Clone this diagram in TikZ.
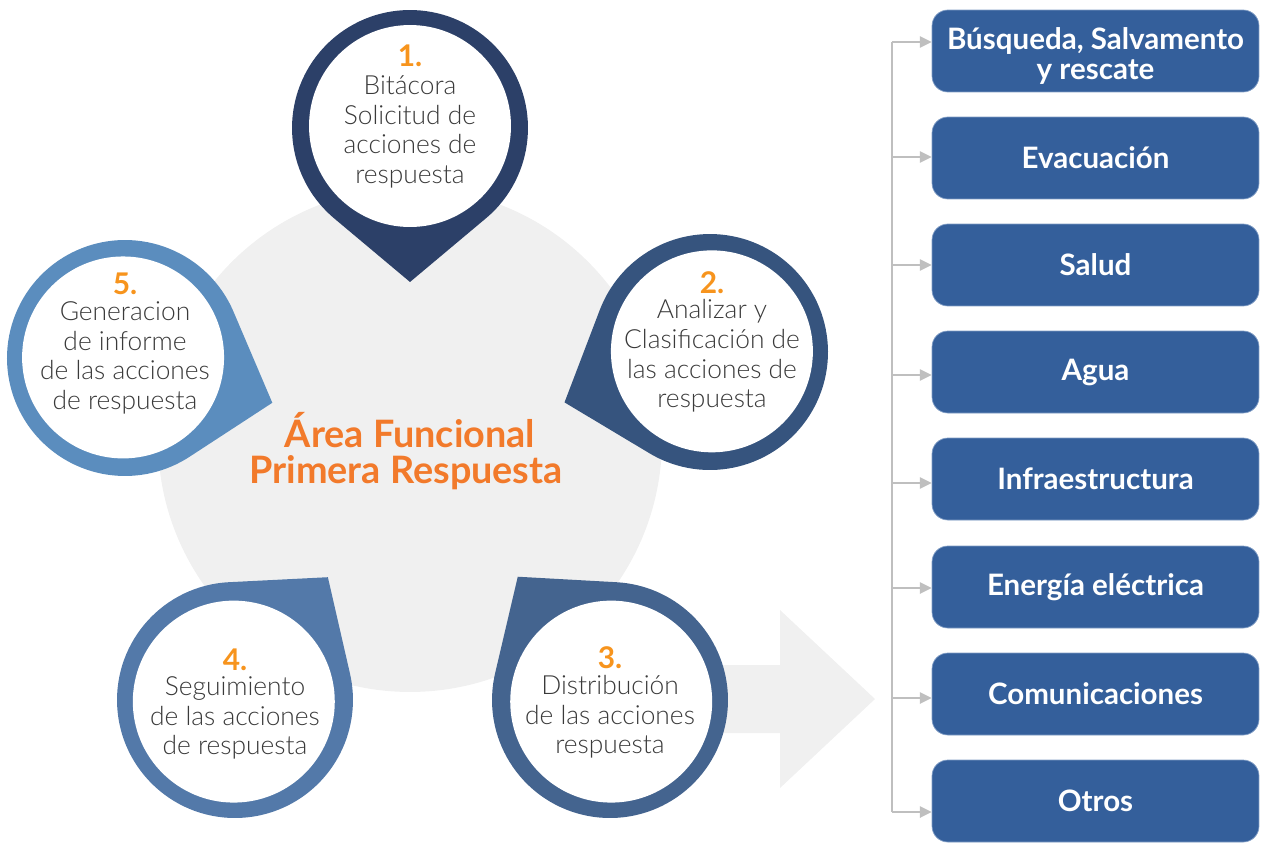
\documentclass[tikz,border=0pt]{standalone}
\usepackage{fontspec}
\setmainfont{Lato}
\IfFontExistsTF{Lato Light}{\newfontfamily\pinfont{Lato Light}}{\newfontfamily\pinfont{Lato}}
\usetikzlibrary{calc,arrows.meta}
\definecolor{bggray}{HTML}{F0F0F0}
\definecolor{pinA}{HTML}{2C4068}
\definecolor{pinB}{HTML}{36547E}
\definecolor{pinC}{HTML}{44648F}
\definecolor{pinD}{HTML}{5379A9}
\definecolor{pinE}{HTML}{5B8DBE}
\definecolor{numor}{HTML}{F7941D}
\definecolor{titleor}{HTML}{F27A2B}
\definecolor{boxblue}{HTML}{345F9B}
\definecolor{boxedge}{HTML}{7F9CC4}
\definecolor{linegray}{HTML}{BFBFBF}
\definecolor{txtgray}{HTML}{3A3A3A}
\newcommand\drawpinshape[3]{%
  \pgfmathsetmacro\pinangA{#2+40}%
  \pgfmathsetmacro\pinangB{#2+320}%
  \pgfmathsetmacro\pinangC{#2+180}%
  \fill[#3] ($(#1)+(#2:3.08cm)$) -- ($(#1)+(\pinangA:2.36cm)$) arc[start angle=\pinangA, end angle=\pinangB, radius=2.36cm] -- cycle;
  \fill[white] ($(#1)+(\pinangC:0.04cm)$) circle[radius=2.02cm];
}
\tikzset{
  pintext/.style={align=center, text=txtgray, inner sep=0pt, font=\pinfont\fontsize{15}{16.8}\selectfont},
  pinnum/.style={inner sep=0pt, text=numor, font=\bfseries\fontsize{17}{18}\selectfont},
  titletext/.style={anchor=base, text=titleor, inner sep=0pt, font=\bfseries\fontsize{21.5}{22}\selectfont},
  bx/.style={rounded corners=9pt, fill=boxblue, draw=boxedge, line width=0.4pt, minimum width=6.54cm, minimum height=1.64cm, text=white, font=\bfseries\fontsize{16.8}{17}\selectfont, align=center, inner sep=0pt},
  conn/.style={draw=linegray, line width=1.4pt},
  connarrow/.style={conn, -{Triangle[length=6.8pt,width=6.4pt]}}
}
\begin{document}
\begin{tikzpicture}[x=0.02cm,y=0.02cm]
\useasboundingbox (0,0) rectangle (1266,-842);
% background circle and arrow
\fill[bggray] (410,-440) circle[radius=5.04cm];
\fill[bggray] (650,-665) -- (780,-665) -- (780,-610) -- (875,-699) -- (780,-788) -- (780,-733) -- (650,-733) -- cycle;
% pin centres
\coordinate (c1) at (410,-128);
\coordinate (c2) at (710,-352);
\coordinate (c3) at (610,-700);
\coordinate (c4) at (235,-700);
\coordinate (c5) at (125,-358);
\drawpinshape{c1}{-90}{pinA}
\drawpinshape{c2}{199.1}{pinB}
\drawpinshape{c3}{126.8}{pinC}
\drawpinshape{c4}{52.9}{pinD}
\drawpinshape{c5}{-16.9}{pinE}
% pin texts
\node[pinnum] (n1) at (410,-56) {1.};
\node[pintext] (t1) at (410,-132) {Bitácora\\Solicitud de\\acciones de\\respuesta};
\node[pinnum] (n2) at (712,-283) {2.};
\node[pintext] (t2) at (712,-356) {Analizar y\\Clasificación de\\las acciones de\\respuesta};
\node[pinnum] (n3) at (610,-658) {3.};
\node[pintext] (t3) at (610,-717) {Distribución\\de las acciones\\respuesta};
\node[pinnum] (n4) at (235,-660) {4.};
\node[pintext] (t4) at (235,-718) {Seguimiento\\de las acciones\\de respuesta};
\node[pinnum] (n5) at (125,-284) {5.};
\node[pintext] (t5) at (125,-358) {Generacion\\de informe\\de las acciones\\de respuesta};
% title
\node[titletext] (title1) at (410,-447) {Área Funcional};
\node[titletext] (title2) at (406,-483) {Primera Respuesta};
% boxes
\node[bx] (b1) at (1095.5,-51) {\rule{0pt}{18pt}Búsqueda, Salvamento\\y rescate};
\node[bx] (b2) at (1095.5,-158) {Evacuación};
\node[bx] (b3) at (1095.5,-265) {Salud};
\node[bx] (b4) at (1095.5,-372) {Agua};
\node[bx] (b5) at (1095.5,-479) {Infraestructura};
\node[bx] (b6) at (1095.5,-587) {Energía eléctrica};
\node[bx] (b7) at (1095.5,-694) {Comunicaciones};
\node[bx] (b8) at (1095.5,-801) {Otros};
% connectors
\coordinate (k1) at (892,-42);
\coordinate (k2) at (892,-157);
\coordinate (k3) at (892,-265);
\coordinate (k4) at (892,-375);
\coordinate (k5) at (892,-483);
\coordinate (k6) at (892,-588);
\coordinate (k7) at (892,-698);
\coordinate (k8) at (892,-812);
\draw[conn] (k1) -- (k8);
\foreach \i in {1,...,8} {
  \draw[connarrow] (k\i) -- (k\i -| b\i.west);
}
\end{tikzpicture}
\end{document}
